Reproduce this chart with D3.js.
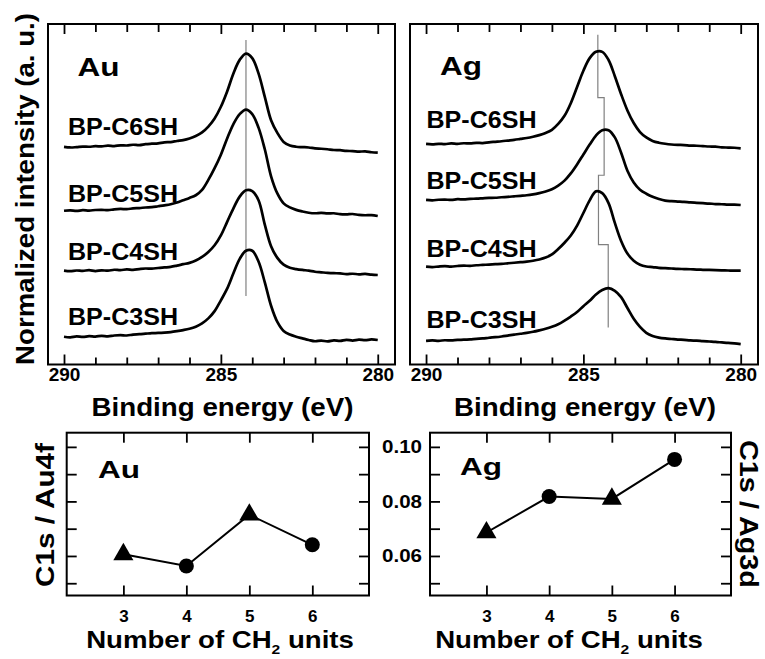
<!DOCTYPE html>
<html>
<head>
<meta charset="utf-8">
<script src="https://cdn.jsdelivr.net/npm/d3@7"></script>
<style>
  body { margin: 0; background: #fff; }
  svg text { font-family: "Liberation Sans", Arial, Helvetica, sans-serif; font-weight: bold; fill: #000; }
</style>
</head>
<body>
<svg id="chart" width="765" height="659"></svg>
<script>
// ---- C1s spectra: binding energy grid (eV) ----
const bindingEnergy = [
  290.0, 289.8, 289.6, 289.4, 289.2, 289.0, 288.8, 288.6, 288.4, 288.2,
  288.0, 287.8, 287.6, 287.4, 287.2, 287.0, 286.8, 286.6, 286.4, 286.2,
  286.0, 285.8, 285.6, 285.4, 285.2, 285.0, 284.8, 284.6, 284.4, 284.2,
  284.0, 283.8, 283.6, 283.4, 283.2, 283.0, 282.8, 282.6, 282.4, 282.2,
  282.0, 281.8, 281.6, 281.4, 281.2, 281.0, 280.8, 280.6, 280.4, 280.2, 280.0
];
const sampleNames = ["BP-C6SH", "BP-C5SH", "BP-C4SH", "BP-C3SH"];

// Normalized intensity above the high-energy-end baseline, Au substrate
const auC6 = [0.065,0.058,0.062,0.068,0.066,0.072,0.070,0.078,0.074,0.082,
  0.080,0.088,0.084,0.095,0.100,0.104,0.115,0.118,0.130,0.140,
  0.158,0.185,0.225,0.29,0.38,0.51,0.68,0.88,1.03,1.10,
  1.05,0.88,0.62,0.36,0.22,0.12,0.080,0.066,0.062,0.058,
  0.048,0.044,0.038,0.030,0.028,0.020,0.018,0.012,0.014,0.005,0.000];
const auC5 = [0.058,0.062,0.056,0.064,0.060,0.066,0.068,0.064,0.074,0.078,
  0.076,0.084,0.088,0.094,0.098,0.108,0.118,0.130,0.150,0.175,
  0.200,0.230,0.290,0.40,0.53,0.68,0.86,1.02,1.13,1.18,
  1.13,0.98,0.74,0.44,0.25,0.14,0.095,0.068,0.050,0.036,
  0.030,0.034,0.028,0.030,0.020,0.018,0.022,0.012,0.008,0.010,0.000];
const auC4 = [0.048,0.042,0.050,0.046,0.054,0.044,0.052,0.048,0.058,0.054,
  0.062,0.058,0.066,0.072,0.070,0.078,0.084,0.090,0.104,0.120,
  0.135,0.160,0.200,0.255,0.33,0.44,0.59,0.74,0.87,0.94,
  0.93,0.83,0.56,0.32,0.19,0.115,0.080,0.066,0.056,0.048,
  0.036,0.030,0.024,0.020,0.018,0.010,0.014,0.008,0.012,0.004,0.000];
const auC3 = [0.036,0.030,0.040,0.034,0.042,0.038,0.046,0.040,0.050,0.054,
  0.050,0.060,0.064,0.070,0.076,0.078,0.082,0.088,0.098,0.110,
  0.125,0.148,0.185,0.240,0.32,0.44,0.57,0.74,0.90,0.99,
  0.99,0.87,0.64,0.38,0.20,0.10,0.060,0.036,0.018,0.000,
  -0.014,-0.006,-0.016,-0.004,-0.010,0.002,-0.006,0.004,-0.002,0.006,0.000];

// Normalized intensity, Ag substrate
const agC6 = [0.048,0.044,0.050,0.046,0.054,0.050,0.056,0.054,0.060,0.058,
  0.066,0.072,0.078,0.086,0.094,0.104,0.114,0.128,0.146,0.170,
  0.205,0.27,0.36,0.50,0.68,0.86,1.00,1.07,1.07,0.98,
  0.80,0.60,0.42,0.28,0.18,0.120,0.082,0.062,0.050,0.042,
  0.038,0.036,0.030,0.028,0.024,0.020,0.018,0.010,0.008,0.006,0.000];
const agC5 = [0.056,0.052,0.058,0.060,0.056,0.064,0.062,0.068,0.070,0.074,
  0.078,0.080,0.086,0.090,0.096,0.102,0.108,0.118,0.132,0.150,
  0.175,0.215,0.27,0.35,0.45,0.56,0.67,0.77,0.83,0.83,
  0.75,0.58,0.38,0.25,0.17,0.125,0.090,0.066,0.048,0.042,
  0.038,0.034,0.028,0.024,0.020,0.016,0.010,0.008,0.004,0.004,0.000];
const agC4 = [0.044,0.040,0.046,0.050,0.046,0.052,0.056,0.054,0.060,0.064,
  0.068,0.072,0.076,0.082,0.088,0.094,0.100,0.110,0.124,0.145,
  0.180,0.24,0.31,0.39,0.50,0.64,0.78,0.88,0.86,0.75,
  0.53,0.33,0.19,0.110,0.066,0.046,0.040,0.032,0.028,0.024,
  0.020,0.018,0.016,0.012,0.010,0.008,0.006,0.004,0.002,0.000,0.000];
const agC3 = [0.036,0.040,0.036,0.042,0.040,0.046,0.048,0.052,0.058,0.062,
  0.070,0.076,0.084,0.094,0.104,0.114,0.124,0.136,0.152,0.170,
  0.192,0.220,0.260,0.305,0.355,0.42,0.48,0.55,0.60,0.62,
  0.59,0.52,0.40,0.28,0.19,0.125,0.090,0.072,0.062,0.056,
  0.050,0.046,0.040,0.038,0.032,0.028,0.024,0.018,0.012,0.008,0.000];

// Vertical stacking offsets (same order as sampleNames)
const auOffsets = [2.350, 1.648, 0.993, 0.272];
const agOffsets = [2.399, 1.770, 1.041, 0.227];

// Peak-position guide: energy of each peak, and where each segment starts/ends
const auPeakEnergy = [284.2, 284.2, 284.2, 284.2];
const agPeakEnergy = [284.54, 284.34, 284.52, 284.21];
const auGuideBreaks = [3.60, 2.90, 2.10, 1.33, 0.76];
const agGuideBreaks = [3.66, 2.96, 2.10, 1.33, 0.41];

const energyMajorTicks = [290, 285, 280];
const energyMinorTicks = [289, 288, 287, 286, 284, 283, 282, 281];

// ---- C1s / substrate intensity ratio vs chain length ----
const chainLength = [3, 4, 5, 6];
const auRatio = [0.0606, 0.0563, 0.0751, 0.0641];
const agRatio = [0.0686, 0.0818, 0.0809, 0.0954];
const markerShape = ["triangle", "circle", "triangle", "circle"];
const ratioTicks = [0.05, 0.06, 0.07, 0.08, 0.09, 0.10];
const ratioTickLabels = [0.06, 0.08, 0.10];

const svg = d3.select("#chart");
const FONT = '"Liberation Sans", Arial, Helvetica, sans-serif';

function styleAxis(g, size) {
  g.attr("font-family", FONT).attr("font-size", size).attr("font-weight", "bold");
  g.select(".domain").remove();
  g.selectAll(".tick line").attr("stroke", "#000").attr("stroke-width", 1.8);
  g.selectAll(".tick text").attr("fill", "#000");
}

function label(text, x, y, size, length, anchor, rotate) {
  const t = svg.append("text")
    .attr("transform", `translate(${x},${y})` + (rotate ? ` rotate(${rotate})` : ""))
    .attr("text-anchor", anchor || "start")
    .attr("font-size", size)
    .text(text);
  if (length) t.attr("textLength", length).attr("lengthAdjust", "spacingAndGlyphs");
  return t;
}

// ---- Spectra panels ----
function spectraPanel(cfg) {
  const x = d3.scaleLinear().domain([290.51, 279.45]).range([cfg.left, cfg.right]);
  const y = d3.scaleLinear().domain([0, 3.778]).range([364.5, 24]);
  const g = svg.append("g");

  // peak-position guide
  const guidePts = [];
  cfg.peaks.forEach((e, i) => {
    guidePts.push([e, cfg.breaks[i]]);
    guidePts.push([e, cfg.breaks[i + 1]]);
  });
  g.append("path")
    .attr("d", d3.line().x(d => x(d[0])).y(d => y(d[1]))(guidePts))
    .attr("fill", "none").attr("stroke", "#808080").attr("stroke-width", 1.2);

  // spectra
  const line = d3.line().curve(d3.curveCatmullRom.alpha(0.5));
  cfg.series.forEach((vals, i) => {
    const pts = vals.map((v, j) => [x(bindingEnergy[j]), y(cfg.offsets[i] + v)]);
    g.append("path").attr("d", line(pts))
      .attr("fill", "none").attr("stroke", "#000")
      .attr("stroke-width", 2.7).attr("stroke-linejoin", "round");
  });

  // frame and ticks
  g.append("rect").attr("x", cfg.left).attr("y", 24)
    .attr("width", cfg.right - cfg.left).attr("height", 340.5)
    .attr("fill", "none").attr("stroke", "#000").attr("stroke-width", 2);
  g.append("g").attr("transform", "translate(0,364.5)")
    .call(d3.axisBottom(x).tickValues(energyMajorTicks).tickSize(-10).tickPadding(3).tickFormat(d3.format("d")))
    .call(a => styleAxis(a, 19));
  g.append("g").attr("transform", "translate(0,364.5)")
    .call(d3.axisBottom(x).tickValues(energyMinorTicks).tickSize(-7).tickFormat(""))
    .call(a => styleAxis(a, 19));
  g.append("g").attr("transform", "translate(0,24)")
    .call(d3.axisTop(x).tickValues(energyMajorTicks).tickSize(-10).tickFormat(""))
    .call(a => styleAxis(a, 19));
  g.append("g").attr("transform", "translate(0,24)")
    .call(d3.axisTop(x).tickValues(energyMinorTicks).tickSize(-8).tickFormat(""))
    .call(a => styleAxis(a, 19));

  // labels
  sampleNames.forEach((n, i) => label(n, cfg.labelX, cfg.labelY[i], 23, 110));
  label(cfg.metal, cfg.metalX, cfg.metalY, 25, 42);
  label("Binding energy (eV)", cfg.titleX, 416, 25, 262, "middle");
}

spectraPanel({
  left: 48, right: 395, series: [auC6, auC5, auC4, auC3], offsets: auOffsets,
  peaks: auPeakEnergy, breaks: auGuideBreaks,
  labelX: 68, labelY: [135, 201.7, 260, 325],
  metal: "Au", metalX: 77.5, metalY: 76, titleX: 222.5
});
spectraPanel({
  left: 410, right: 758, series: [agC6, agC5, agC4, agC3], offsets: agOffsets,
  peaks: agPeakEnergy, breaks: agGuideBreaks,
  labelX: 426.5, labelY: [128.3, 189, 257.3, 328.3],
  metal: "Ag", metalX: 440, metalY: 75, titleX: 585
});
label("Normalized intensity (a. u.)", 33.5, 189, 25, 352, "middle", -90);

// ---- Ratio panels ----
function ratioPanel(cfg) {
  const x = d3.scaleLinear().domain([2.1, 6.9]).range([cfg.left, cfg.right]);
  const y = d3.scaleLinear().domain([0.0455, 0.1052]).range([595.5, 432.7]);
  const g = svg.append("g");

  g.append("rect").attr("x", cfg.left).attr("y", 432.7)
    .attr("width", cfg.right - cfg.left).attr("height", 595.5 - 432.7)
    .attr("fill", "none").attr("stroke", "#000").attr("stroke-width", 2);

  g.append("g").attr("transform", "translate(0,595.5)")
    .call(d3.axisBottom(x).tickValues(chainLength).tickSize(-10).tickPadding(14).tickFormat(d3.format("d")))
    .call(a => styleAxis(a, 17));
  g.append("g").attr("transform", "translate(0,432.7)")
    .call(d3.axisTop(x).tickValues(chainLength).tickSize(-10).tickFormat(""))
    .call(a => styleAxis(a, 17));
  const fmt = d3.format(".2f");
  const leftAxis = g.append("g").attr("transform", `translate(${cfg.left},0)`)
    .call(d3.axisLeft(y).tickValues(ratioTicks).tickSize(-10).tickPadding(8)
      .tickFormat(d => cfg.showLabels && ratioTickLabels.some(v => Math.abs(v - d) < 1e-9) ? fmt(d) : ""))
    .call(a => styleAxis(a, 18));
  leftAxis.selectAll(".tick text").filter(function () { return this.textContent; })
    .attr("textLength", 40).attr("lengthAdjust", "spacingAndGlyphs");
  g.append("g").attr("transform", `translate(${cfg.right},0)`)
    .call(d3.axisRight(y).tickValues(ratioTicks).tickSize(-10).tickFormat(""))
    .call(a => styleAxis(a, 18));

  g.append("path")
    .attr("d", d3.line().x((d, i) => x(chainLength[i])).y(d => y(d))(cfg.values))
    .attr("fill", "none").attr("stroke", "#000").attr("stroke-width", 2);
  g.selectAll(".marker").data(cfg.values).join("path")
    .attr("transform", (d, i) => `translate(${x(chainLength[i])},${y(d)})`)
    .attr("d", (d, i) => markerShape[i] === "triangle"
      ? d3.symbol().type(d3.symbolTriangle).size(175)()
      : d3.symbol().type(d3.symbolCircle).size(177)())
    .attr("fill", "#000");

  label(cfg.metal, cfg.metalX, cfg.metalY, 24, 42);

  const t = svg.append("text")
    .attr("transform", `translate(${cfg.titleX},648) scale(1.2,1)`)
    .attr("text-anchor", "middle").attr("font-size", 23);
  t.append("tspan").text("Number of CH");
  t.append("tspan").attr("font-size", 13).attr("dy", 6).text("2");
  t.append("tspan").attr("dy", -6).text(" units");
}

ratioPanel({ left: 66.7, right: 369, values: auRatio, showLabels: false,
  metal: "Au", metalX: 98, metalY: 478.3, titleX: 220 });
ratioPanel({ left: 430, right: 731, values: agRatio, showLabels: true,
  metal: "Ag", metalX: 460, metalY: 475, titleX: 569 });

label("C1s / Au4f", 54, 515, 25, 144, "middle", -90);
label("C1s / Ag3d", 740, 514, 25, 148, "middle", 90);
</script>
</body>
</html>
